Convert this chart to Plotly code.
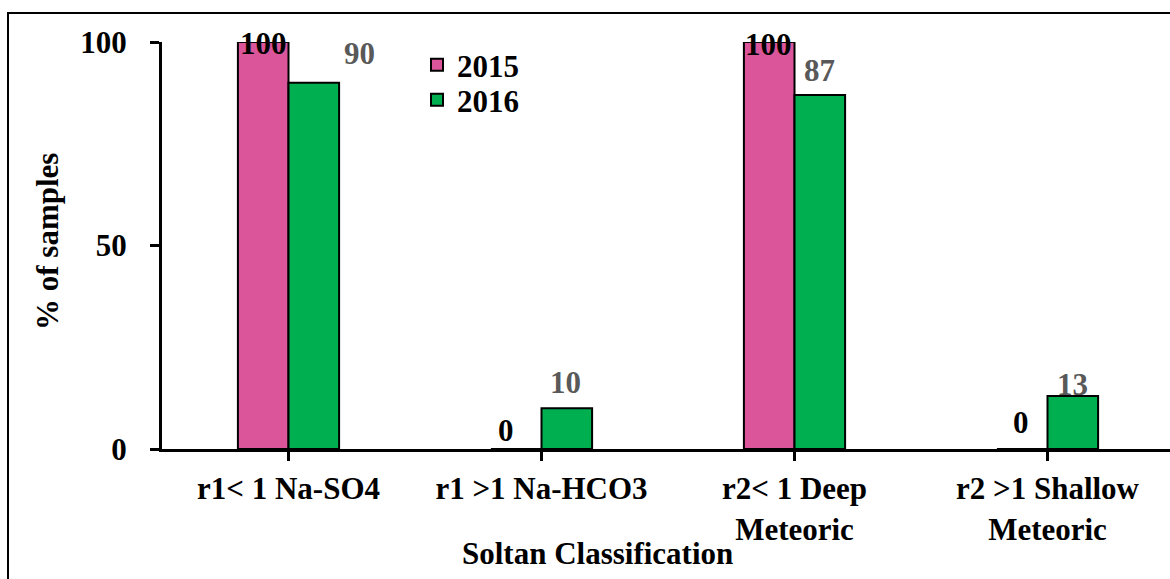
import plotly.graph_objects as go

categories = ["r1< 1 Na-SO4", "r1 >1 Na-HCO3", "r2< 1 Deep<br>Meteoric", "r2 >1 Shallow<br>Meteoric"]
series_names = ["2015", "2016"]
values_2015 = [100, 0, 100, 0]
values_2016 = [90, 10, 87, 13]
y_ticks = [0, 50, 100]

# styles
colors = ["#DA5599", "#00B050"]
label_colors = ["#000000", "#595959"]
# per-label pixel offsets (xshift, yshift) for manual label placement
label_offsets_2015 = [(0, -1), (-10, 19), (-1, -2), (-1, 27)]
label_offsets_2016 = [(46, 29), (-1, 26), (0, 24), (0, 12)]

FONT = "Liberation Serif"
FS = 31
W, H = 1200, 579
ML, MR, MT, MB = 162, 30, 42, 130
BARGAP = 0.6

fig = go.Figure()
fig.add_trace(go.Bar(x=list(range(4)), y=values_2015, name=series_names[0],
                     marker=dict(color=colors[0], line=dict(color="black", width=2)),
                     legend="legend", showlegend=True))
fig.add_trace(go.Bar(x=list(range(4)), y=values_2016, name=series_names[1],
                     marker=dict(color=colors[1], line=dict(color="black", width=2)),
                     legend="legend2", showlegend=True))

pw = W - ML - MR
ph = H - MT - MB
off = (1 - BARGAP) / 4
ann = []
for s, (vals, offs) in enumerate([(values_2015, label_offsets_2015), (values_2016, label_offsets_2016)]):
    for i, v in enumerate(vals):
        ann.append(dict(x=i + (-off if s == 0 else off), y=v, xref="x", yref="y",
                        text=str(v), showarrow=False, xanchor="center", yanchor="middle",
                        xshift=offs[i][0], yshift=offs[i][1],
                        font=dict(family=FONT, size=FS, color=label_colors[s], weight="bold")))

def px_to_paper_x(px):
    return (px - ML) / pw

def px_to_paper_y(py):
    return (H - MB - py) / ph

ann.append(dict(x=px_to_paper_x(597), y=px_to_paper_y(553), xref="paper", yref="paper",
                text="Soltan Classification", showarrow=False, xanchor="center", yanchor="middle",
                font=dict(family=FONT, size=FS, color="black", weight="bold")))
ann.append(dict(x=px_to_paper_x(48), y=px_to_paper_y(242), xref="paper", yref="paper",
                text="% of samples", showarrow=False, xanchor="center", yanchor="middle",
                textangle=-90,
                font=dict(family=FONT, size=FS, color="black", weight="bold")))

frame_line = dict(color="black", width=2)
shapes = [
    dict(type="line", xref="paper", yref="paper",
         x0=px_to_paper_x(8), x1=px_to_paper_x(8),
         y0=px_to_paper_y(12), y1=px_to_paper_y(585), line=frame_line, layer="below"),
    dict(type="line", xref="paper", yref="paper",
         x0=px_to_paper_x(7), x1=px_to_paper_x(1195),
         y0=px_to_paper_y(13), y1=px_to_paper_y(13), line=frame_line, layer="below"),
]

fig.update_layout(
    width=W, height=H,
    showlegend=True,
    margin=dict(l=ML, r=MR, t=MT, b=MB, pad=0),
    paper_bgcolor="white", plot_bgcolor="white",
    barmode="group", bargap=BARGAP, bargroupgap=0,
    annotations=ann,
    shapes=shapes,
    legend=dict(x=px_to_paper_x(417), y=px_to_paper_y(65), xanchor="left", yanchor="middle",
                bgcolor="rgba(0,0,0,0)", borderwidth=0,
                font=dict(family=FONT, size=FS, color="black", weight="bold")),
    legend2=dict(x=px_to_paper_x(417), y=px_to_paper_y(100), xanchor="left", yanchor="middle",
                 bgcolor="rgba(0,0,0,0)", borderwidth=0,
                 font=dict(family=FONT, size=FS, color="black", weight="bold")),
    xaxis=dict(tickmode="array", tickvals=list(range(4)), ticktext=categories,
               range=[-0.5, -0.5 + pw / 253.0],
               showline=True, linecolor="black", linewidth=3,
               ticks="outside", tickson="boundaries", ticklen=9, tickwidth=3, tickcolor="black",
               ticklabelstandoff=1,
               tickfont=dict(family=FONT, size=FS, color="black", weight="bold"),
               showgrid=False, zeroline=False, fixedrange=True),
    yaxis=dict(range=[0, 100], tickvals=y_ticks,
               showline=True, linecolor="black", linewidth=3,
               ticks="outside", ticklen=9, tickwidth=3, tickcolor="black",
               ticklabelstandoff=17,
               tickfont=dict(family=FONT, size=FS, color="black", weight="bold"),
               showgrid=False, zeroline=False, fixedrange=True),
)

fig.write_html("out.html", config={"displayModeBar": False},
               post_script="document.body.style.margin='0';document.body.style.overflow='hidden';")
